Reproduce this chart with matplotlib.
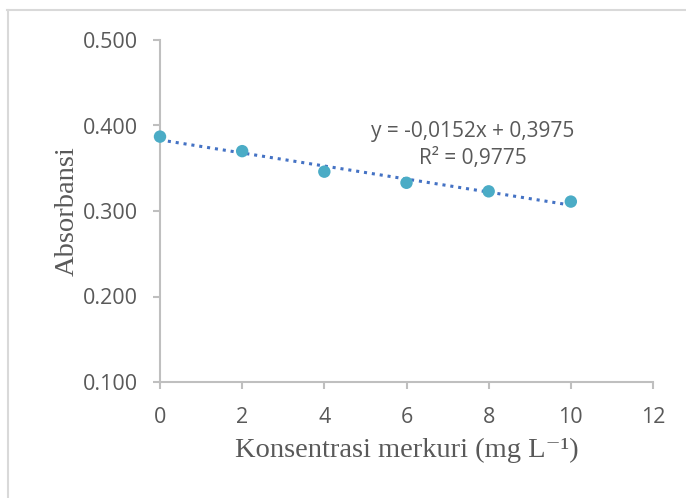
import matplotlib
matplotlib.use("Agg")
import matplotlib.pyplot as plt
import numpy as np

x_vals = [0, 2, 4, 6, 8, 10]
absorbance = [0.387, 0.370, 0.346, 0.333, 0.323, 0.311]
x_ticks = [0, 2, 4, 6, 8, 10, 12]
y_ticks = [0.100, 0.200, 0.300, 0.400, 0.500]
eq_text = "y = -0,0152x + 0,3975"
r2_text = "R² = 0,9775"

fig = plt.figure(figsize=(6.86, 4.98), dpi=100)
ax = fig.add_axes([160/686, 1-382/498, (653-160)/686, (382-40)/498])

grey = "#BFBFBF"
txt = "#595959"

coef = np.polyfit(x_vals, absorbance, 1)
xl = np.array([x_vals[0], x_vals[-1]])
ax.plot(xl, np.polyval(coef, xl), linestyle=(0, (1, 1.6)), color="#4472C4",
        linewidth=2.2, zorder=2)
ax.scatter(x_vals, absorbance, s=80, color="#4BACC6", zorder=3, edgecolors="none",
           clip_on=False)

ax.set_xlim(0, 12)
ax.set_ylim(0.1, 0.5)
ax.set_xticks(x_ticks)
ax.set_yticks(y_ticks)
ax.set_xticklabels([str(v) for v in x_ticks])
ax.set_yticklabels([f"{v:.3f}" for v in y_ticks])

for s in ["top", "right"]:
    ax.spines[s].set_visible(False)
for s in ["left", "bottom"]:
    ax.spines[s].set_color(grey)
    ax.spines[s].set_linewidth(1.5)
ax.tick_params(axis="both", colors=grey, length=5, width=1.5, direction="out")
ax.tick_params(axis="both", labelcolor=txt, labelsize=15.5)
for lab in ax.get_xticklabels() + ax.get_yticklabels():
    lab.set_family("Open Sans")
ax.tick_params(axis="x", pad=13)
ax.tick_params(axis="y", pad=11)

ax.set_xlabel("Konsentrasi merkuri (mg L⁻¹)", family=["Liberation Serif", "DejaVu Serif"],
              fontsize=20.5, color=txt, labelpad=7)
ax.set_ylabel("Absorbansi", family="Liberation Serif", fontsize=20.5, color=txt, labelpad=2)

ax.text(473/686, 1-131/498, eq_text, transform=fig.transFigure, ha="center", va="center",
        family="Open Sans", fontsize=15, color=txt)
ax.text(473/686, 1-158.5/498, r2_text, transform=fig.transFigure, ha="center", va="center",
        family="Open Sans", fontsize=15, color=txt)

# chart border
fig.add_artist(plt.Line2D([7/686, 1], [1-10.5/498, 1-10.5/498], color="#D9D9D9", linewidth=1.5,
                          transform=fig.transFigure))
fig.add_artist(plt.Line2D([7.5/686, 7.5/686], [0, 1-10.5/498], color="#D9D9D9", linewidth=1.5,
                          transform=fig.transFigure))

fig.savefig("out.png", dpi=100)
